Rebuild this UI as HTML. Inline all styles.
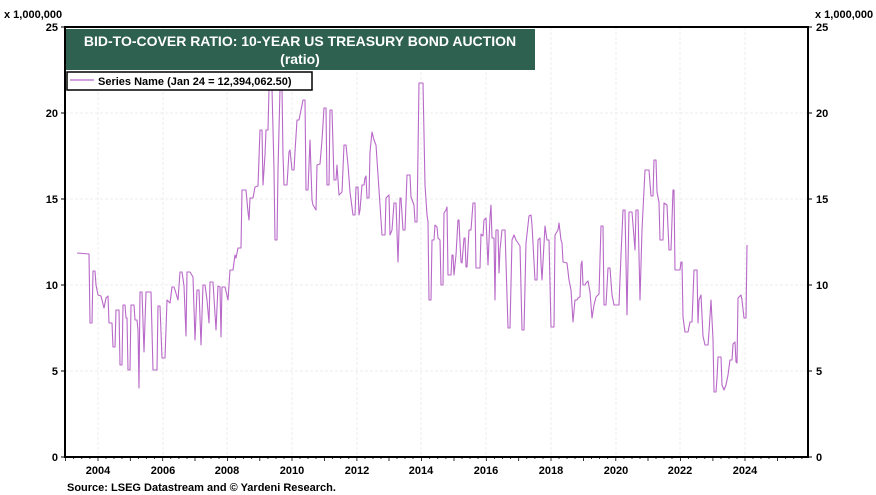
<!DOCTYPE html>
<html><head><meta charset="utf-8"><style>
body{margin:0;background:#fff;}
svg{display:block;font-family:"Liberation Sans",Arial,sans-serif;}
</style></head><body>
<svg width="876" height="495" xmlns="http://www.w3.org/2000/svg">
<rect width="876" height="495" fill="#fff"/>
<g stroke="#ececec" stroke-width="1" stroke-dasharray="3,2">
<line x1="65" y1="371" x2="808" y2="371"/><line x1="65" y1="285" x2="808" y2="285"/><line x1="65" y1="199" x2="808" y2="199"/><line x1="65" y1="113" x2="808" y2="113"/>
<line x1="98" y1="27" x2="98" y2="457"/><line x1="163" y1="27" x2="163" y2="457"/><line x1="227" y1="27" x2="227" y2="457"/><line x1="292" y1="27" x2="292" y2="457"/><line x1="357" y1="27" x2="357" y2="457"/><line x1="421" y1="27" x2="421" y2="457"/><line x1="486" y1="27" x2="486" y2="457"/><line x1="551" y1="27" x2="551" y2="457"/><line x1="616" y1="27" x2="616" y2="457"/><line x1="680" y1="27" x2="680" y2="457"/><line x1="745" y1="27" x2="745" y2="457"/>
</g>
<polyline fill="none" stroke="#b868c8" stroke-width="1.1" stroke-linejoin="round" points="77,253 89,254 90,323 92,323 93,271 95,271 96,285 98,295 101,296 102,300 104,308 106,298 108,296 109,323 112,323 113,347 115,347 116,310 119,310 120,365 122,365 123,305 125,305 126,318 127,318 128,370 130,370 131,305 134,305 135,320 137,320 138,330 139,388 140,292 142,292 144,352 146,292 151,292 153,370 157,370 158,306 160,306 162,358 165,358 167,300 170,303 172,287 174,287 175,290 178,300 180,272 182,272 184,286 186,336 187,272 190,272 193,277 195,340 197,290 199,290 201,345 203,285 205,285 207,300 209,323 210,282 213,282 214,298 216,330 218,286 220,287 221,337 222,287 225,287 228,300 230,270 233,270 235,255 236,258 238,248 241,248 242,190 246,190 248,212 249,220 250,198 253,198 255,187 258,186 260,130 262,130 263,185 265,155 266,130 268,130 269,89 272,89 274,170 275,240 277,240 278,170 280,89 282,89 283,155 284,185 287,185 289,152 290,150 292,170 294,170 295,152 297,120 299,120 301,110 303,100 305,100 306,190 308,190 310,140 312,200 313,205 316,210 317,165 320,164 322,140 324,108 326,108 327,185 329,185 330,110 332,110 334,180 336,180 337,165 339,195 342,192 344,145 346,145 348,165 350,192 353,215 355,215 356,187 358,187 359,215 360,210 362,185 364,185 365,178 366,176 367,198 369,198 370,152 372,132 374,140 376,145 378,175 380,205 382,235 385,235 386,198 389,195 390,235 392,230 394,203 396,203 398,262 400,198 401,198 403,230 405,230 407,175 410,175 411,197 414,205 415,222 417,222 419,83 423,83 425,185 427,215 428,222 429,300 431,300 432,240 434,240 435,225 437,227 438,238 440,240 441,285 443,285 444,213 446,210 447,207 448,275 451,275 452,255 453,255 454,275 456,255 458,220 459,220 460,243 461,262 462,263 464,238 465,238 466,267 467,267 469,230 471,230 473,203 475,203 476,268 480,268 481,234 483,236 484,220 486,218 488,265 490,217 491,205 492,238 494,238 495,300 496,230 498,230 499,273 500,250 502,230 505,230 508,328 510,328 512,240 514,235 516,240 520,246 522,330 524,330 526,243 529,216 531,215 532,225 535,280 537,280 538,240 540,238 541,263 542,280 543,262 545,226 547,240 549,240 551,327 554,327 555,235 558,230 559,223 561,240 562,243 563,262 567,263 569,280 571,290 573,322 575,300 577,300 578,298 580,297 581,265 582,261 583,285 585,285 586,283 588,281 590,292 591,305 592,318 594,305 596,297 599,294 601,226 603,226 604,305 606,305 608,268 610,268 612,295 614,305 619,305 621,255 623,210 625,210 627,315 629,212 632,212 635,250 636,210 638,210 640,300 642,230 645,170 649,170 651,196 653,196 654,160 656,160 657,192 659,202 660,240 663,240 664,203 667,205 669,250 671,250 673,190 674,190 675,270 680,270 681,262 682,262 683,317 685,332 688,332 690,322 692,322 694,270 697,270 698,323 699,300 701,295 703,336 705,345 708,345 709,332 711,300 713,339 714,392 716,392 717,378 718,357 721,357 722,385 724,390 726,385 728,375 730,360 732,360 733,344 735,342 736,362 737,363 738,298 741,295 742,300 744,318 746,318 747,245"/>
<rect x="65" y="27" width="743" height="430" fill="none" stroke="#000" stroke-width="2"/>
<g stroke="#000" stroke-width="1">
<line x1="61" y1="27" x2="65" y2="27"/><line x1="61" y1="113" x2="65" y2="113"/><line x1="61" y1="199" x2="65" y2="199"/><line x1="61" y1="285" x2="65" y2="285"/><line x1="61" y1="371" x2="65" y2="371"/><line x1="61" y1="457" x2="65" y2="457"/>
<line x1="808" y1="27" x2="812" y2="27"/><line x1="808" y1="113" x2="812" y2="113"/><line x1="808" y1="199" x2="812" y2="199"/><line x1="808" y1="285" x2="812" y2="285"/><line x1="808" y1="371" x2="812" y2="371"/><line x1="808" y1="457" x2="812" y2="457"/>
</g>
<g stroke="#000" stroke-width="0.8">
<path d="M65.6 457v4M73.7 457v2M81.8 457v2M89.9 457v2M98 457v4M106 457v2M114 457v2M122 457v2M130.3 457v4M138.4 457v2M146.5 457v2M154.6 457v2M162.7 457v4M170.8 457v2M178.9 457v2M187 457v2M195 457v4M203 457v2M211 457v2M219 457v2M227.4 457v4M235.5 457v2M243.6 457v2M251.7 457v2M259.8 457v4M267.9 457v2M276 457v2M284 457v2M292 457v4M300 457v2M308 457v2M316 457v2M324.5 457v4M332.6 457v2M340.7 457v2M348.8 457v2M356.9 457v4M365 457v2M373 457v2M381 457v2M389 457v4M397 457v2M405 457v2M413 457v2M421.6 457v4M429.7 457v2M437.8 457v2M445.9 457v2M454 457v4M462 457v2M470 457v2M478 457v2M486.3 457v4M494.4 457v2M502.5 457v2M510.6 457v2M518.7 457v4M526.8 457v2M534.9 457v2M543 457v2M551 457v4M559 457v2M567 457v2M575 457v2M583.4 457v4M591.5 457v2M599.6 457v2M607.7 457v2M615.8 457v4M623.9 457v2M632 457v2M640 457v2M648 457v4M656 457v2M664 457v2M672 457v2M680.5 457v4M688.6 457v2M696.7 457v2M704.8 457v2M712.9 457v4M721 457v2M729 457v2M737 457v2M745 457v4M753 457v2M761 457v2M769 457v2M777.6 457v4M785.7 457v2M793.8 457v2M801.9 457v2"/>
</g>
<g font-size="11" font-weight="bold" fill="#000">
<text x="4" y="18">x 1,000,000</text><text x="815" y="18">x 1,000,000</text>
<g text-anchor="end"><text x="58" y="31">25</text><text x="58" y="117">20</text><text x="58" y="203">15</text><text x="58" y="289">10</text><text x="58" y="375">5</text><text x="58" y="461">0</text></g>
<text x="816" y="31">25</text><text x="816" y="117">20</text><text x="816" y="203">15</text><text x="816" y="289">10</text><text x="816" y="375">5</text><text x="816" y="461">0</text>
<g text-anchor="middle"><text x="98" y="474">2004</text><text x="163" y="474">2006</text><text x="227" y="474">2008</text><text x="292" y="474">2010</text><text x="357" y="474">2012</text><text x="421" y="474">2014</text><text x="486" y="474">2016</text><text x="551" y="474">2018</text><text x="616" y="474">2020</text><text x="680" y="474">2022</text><text x="745" y="474">2024</text></g>
<text x="67" y="491">Source: LSEG Datastream and © Yardeni Research.</text>
</g>
<rect x="66" y="29" width="469" height="41" fill="#2e6150"/>
<text x="300" y="46" text-anchor="middle" font-size="14" font-weight="bold" fill="#fff">BID-TO-COVER RATIO: 10-YEAR US TREASURY BOND AUCTION</text>
<text x="300" y="64" text-anchor="middle" font-size="14" font-weight="bold" fill="#fff">(ratio)</text>
<rect x="67" y="72" width="245" height="18" fill="#fff" stroke="#000" stroke-width="1.5"/>
<line x1="70" y1="80" x2="94" y2="80" stroke="#b868c8" stroke-width="1.2"/>
<text x="98" y="85" font-size="11" font-weight="bold">Series Name (Jan 24 = 12,394,062.50)</text>
</svg>
</body></html>
